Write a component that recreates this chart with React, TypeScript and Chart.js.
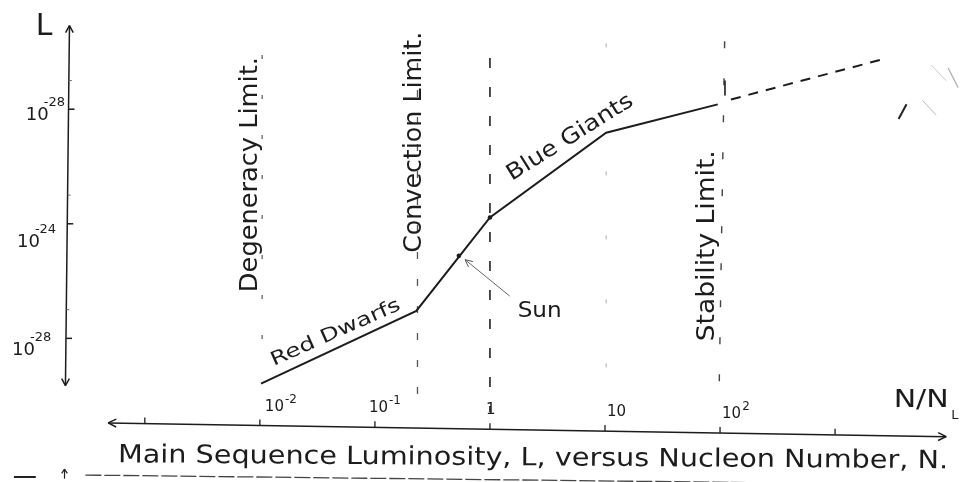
import React, { useEffect, useRef } from "react";
import { Chart, registerables } from "chart.js";

Chart.register(...registerables);

// x value: log10(N / N_L); y value: exponent of L
const curveX = [-1.99, -0.64, 0, 1.01, 1.98];
const curveY = [-29.58, -27.04, -23.78, -20.82, -19.83];
const extrapX = [2.095, 3.39];
const extrapY = [-19.66, -18.28];
const markX = [-0.27, 0];
const markY = [-25.12, -23.78];

const limitNames = ["Degeneracy Limit.", "Convection Limit.", "", "", "Stability Limit."];
const limitTopX = [-1.98, -0.63, 0, 1.01, 2.04];
const limitBottomX = [-1.98, -0.63, 0, 1.01, 1.99];
const limitTopY = [-18.11, -18.39, -18.21, -17.7, -17.63];
const limitBottomY = [-29.27, -30.06, -30.58, -30.4, -30.4];

const xAxisTicks = [-3, -2, -1, 0, 1, 2, 3];
const xTickValues = [-2, -1, 0, 1, 2];
const xTickBases = ["10", "10", "1", "10", "10"];
const xTickExps = ["-2", "-1", "", "", "2"];

const yTicks = [-20, -24, -28];
const yMinorTicks = [-19, -23, -27];
const yTickBases = ["10", "10", "10"];
const yTickExps = ["-28", "-24", "-28"];

const yAxisLabel = "L";
const xAxisLabel = "N/N";
const xAxisLabelSub = "L";
const caption = "Main Sequence Luminosity, L, versus Nucleon Number, N.";
const curveLabels = ["Red Dwarfs", "Blue Giants", "Sun"];

const X_MIN = -4.2241;
const X_MAX = 4.1293;
const Y_MIN = -32.8755;
const Y_MAX = -16.3262;

const INK = "#1c1c1c";
const FONT = '"DejaVu Sans"';

function txt(
  ctx: CanvasRenderingContext2D,
  s: string,
  x: number,
  y: number,
  size: number,
  opt: { angle?: number; width?: number; align?: CanvasTextAlign; color?: string } = {}
) {
  ctx.save();
  ctx.translate(x, y);
  if (opt.angle) ctx.rotate((opt.angle * Math.PI) / 180);
  ctx.font = `${size}px ${FONT}`;
  ctx.textAlign = opt.align || "left";
  ctx.textBaseline = "alphabetic";
  ctx.fillStyle = opt.color || INK;
  if (opt.width) {
    const w = ctx.measureText(s).width;
    ctx.scale(opt.width / w, 1);
  }
  ctx.fillText(s, 0, 0);
  ctx.restore();
}

function seg(ctx: CanvasRenderingContext2D, a: number[], b: number[], color: string, width: number, dash: number[] = []) {
  ctx.save();
  ctx.strokeStyle = color;
  ctx.lineWidth = width;
  ctx.setLineDash(dash);
  ctx.beginPath();
  ctx.moveTo(a[0], a[1]);
  ctx.lineTo(b[0], b[1]);
  ctx.stroke();
  ctx.restore();
}

function arrowHead(ctx: CanvasRenderingContext2D, tip: number[], from: number[], len: number, spread: number, color: string, width: number) {
  const ang = Math.atan2(from[1] - tip[1], from[0] - tip[0]);
  for (const s of [-1, 1]) {
    const a = ang + s * spread;
    seg(ctx, tip, [tip[0] + Math.cos(a) * len, tip[1] + Math.sin(a) * len], color, width);
  }
}

const sketch = {
  id: "sketch",
  beforeDraw(chart: any) {
    const ctx = chart.ctx as CanvasRenderingContext2D;
    ctx.save();
    ctx.fillStyle = "#ffffff";
    ctx.fillRect(0, 0, chart.width, chart.height);
    ctx.restore();
  },
  afterDatasetsDraw(chart: any) {
    const ctx = chart.ctx as CanvasRenderingContext2D;
    const xs = chart.scales.x;
    const ys = chart.scales.y;
    const P = (x: number, y: number) => [xs.getPixelForValue(x), ys.getPixelForValue(y)];

    // horizontal axis
    const L = P(-3.319, -30.953);
    const R = P(3.966, -31.433);
    seg(ctx, L, R, INK, 1.5);
    arrowHead(ctx, L, R, 9, 0.45, INK, 1.5);
    arrowHead(ctx, R, L, 9, 0.45, INK, 1.5);
    const axisYAt = (px: number) => L[1] + ((px - L[0]) / (R[0] - L[0])) * (R[1] - L[1]);
    xAxisTicks.forEach((t) => {
      const px = xs.getPixelForValue(t);
      const py = axisYAt(px);
      seg(ctx, [px, py], [px, py - 6], INK, 1.3);
    });
    const nudge = [5, -6, -4, 2, 2];
    xTickValues.forEach((t, i) => {
      const px = xs.getPixelForValue(t) + nudge[i];
      const py = axisYAt(px) - 15;
      txt(ctx, xTickBases[i], px, py, 15);
      if (xTickExps[i]) {
        ctx.font = `15px ${FONT}`;
        const w = ctx.measureText(xTickBases[i]).width;
        txt(ctx, xTickExps[i], px + w + 1, py - 8, 12);
      }
    });
    const nl = P(3.509, -30.403);
    txt(ctx, xAxisLabel, nl[0], nl[1], 25, { width: 55 });
    const nls = P(4.009, -30.815);
    txt(ctx, xAxisLabelSub, nls[0], nls[1], 13);

    // vertical axis
    const T = P(-3.655, -17.08);
    const B = P(-3.69, -29.65);
    seg(ctx, T, B, INK, 1.5);
    arrowHead(ctx, T, B, 8, 0.5, INK, 1.5);
    arrowHead(ctx, B, T, 8, 0.5, INK, 1.5);
    const axisXAt = (py: number) => T[0] + ((py - T[1]) / (B[1] - T[1])) * (B[0] - T[0]);
    yTicks.forEach((v) => {
      const py = ys.getPixelForValue(v);
      const px = axisXAt(py);
      seg(ctx, [px, py], [px + 6, py], INK, 1.5);
    });
    yMinorTicks.forEach((v) => {
      const py = ys.getPixelForValue(v);
      const px = axisXAt(py);
      seg(ctx, [px, py], [px + 3, py], "#666", 1);
    });
    const yAnchors = [
      [-4.034, -20.378],
      [-4.112, -24.807],
      [-4.155, -28.584],
    ];
    yTicks.forEach((_, i) => {
      const a = P(yAnchors[i][0], yAnchors[i][1]);
      txt(ctx, yTickBases[i], a[0], a[1], 18, { width: 23 });
      txt(ctx, yTickExps[i], a[0] + 18, a[1] - 14, 13);
    });
    const la = P(-3.948, -17.425);
    txt(ctx, yAxisLabel, la[0], la[1], 30);

    // limit labels (vertical)
    const limAnch = [
      [-2.026, -26.386, 235],
      [-0.603, -25.013, 221],
      null,
      null,
      [1.948, -28.103, 191],
    ];
    limitNames.forEach((n, i) => {
      const a = limAnch[i];
      if (!n || !a) return;
      const p = P(a[0], a[1]);
      txt(ctx, n, p[0], p[1], 24, { angle: -90, width: a[2] });
    });

    // stability marker at the end of the solid curve
    seg(ctx, P(2.043, -19.0), P(2.043, -19.52), INK, 1.6);

    // curve labels
    const rd = P(-1.879, -28.961);
    txt(ctx, curveLabels[0], rd[0], rd[1], 19, { angle: -24, width: 140 });
    const bg = P(0.19, -22.506);
    txt(ctx, curveLabels[1], bg[0], bg[1], 22, { angle: -32, width: 145 });
    const sn = P(0.241, -27.245);
    txt(ctx, curveLabels[2], sn[0], sn[1], 22, { width: 44 });

    // arrow to the Sun
    const tail = P(0.172, -26.524);
    const head = P(-0.216, -25.253);
    seg(ctx, tail, head, "#666", 1);
    arrowHead(ctx, head, tail, 8, 0.45, "#555", 1);

    // caption + underline
    const cp = P(-3.233, -32.326);
    txt(ctx, caption, cp[0], cp[1], 25, { width: 830, angle: 0.41 });
    seg(ctx, P(-3.517, -32.773), P(4.052, -33.116), "#444", 1.3, [16, 3]);

    // stray marks of the scanned page
    seg(ctx, P(3.552, -20.343), P(3.621, -19.828), "#222", 2);
    seg(ctx, P(3.759, -19.691), P(3.879, -20.206), "#bbb", 1);
    seg(ctx, P(3.836, -18.455), P(3.966, -19.004), "#ccc", 1);
    seg(ctx, P(3.983, -18.558), P(4.069, -19.245), "#aaa", 1.2);
    seg(ctx, P(-4.138, -32.841), P(-3.948, -32.841), "#222", 2);
    const up = P(-3.698, -32.567);
    seg(ctx, P(-3.698, -32.9), up, "#222", 1.2);
    arrowHead(ctx, up, P(-3.698, -32.9), 5, 0.6, "#222", 1.2);
  },
};

const limitColors = ["#666", "#555", "#222", "#aaa", "#444"];
const limitWidths = [1.3, 1.3, 1.6, 1.0, 1.4];
const limitDashes = [
  [4, 36],
  [7, 20],
  [10, 19],
  [4, 60],
  [7, 30],
];

export default function App() {
  const ref = useRef<HTMLCanvasElement>(null);
  useEffect(() => {
    if (!ref.current) return;
    const datasets: any[] = [
      {
        label: "main sequence",
        data: curveX.map((x, i) => ({ x, y: curveY[i] })),
        showLine: true,
        borderColor: INK,
        borderWidth: 2,
        pointRadius: 0,
        tension: 0,
      },
      {
        label: "extrapolation",
        data: extrapX.map((x, i) => ({ x, y: extrapY[i] })),
        showLine: true,
        borderColor: INK,
        borderWidth: 2,
        borderDash: [10, 8],
        pointRadius: 0,
      },
      ...limitNames.map((n, i) => ({
        label: n || "limit " + i,
        data: [
          { x: limitTopX[i], y: limitTopY[i] },
          { x: limitBottomX[i], y: limitBottomY[i] },
        ],
        showLine: true,
        borderColor: limitColors[i],
        borderWidth: limitWidths[i],
        borderDash: limitDashes[i],
        pointRadius: 0,
      })),
      {
        label: "marks",
        data: markX.map((x, i) => ({ x, y: markY[i] })),
        showLine: false,
        pointRadius: 2.3,
        pointBackgroundColor: INK,
        pointBorderWidth: 0,
      },
    ];
    const chart = new Chart(ref.current, {
      type: "scatter",
      data: { datasets },
      options: {
        responsive: false,
        maintainAspectRatio: false,
        animation: false,
        events: [],
        layout: { padding: 0 },
        scales: {
          x: { type: "linear", display: false, min: X_MIN, max: X_MAX },
          y: { type: "linear", display: false, min: Y_MIN, max: Y_MAX },
        },
        plugins: { legend: { display: false }, tooltip: { enabled: false } },
      },
      plugins: [sketch],
    } as any);
    return () => chart.destroy();
  }, []);
  return (
    <div style={{ position: "absolute", left: 0, top: 0, width: 969, height: 482 }}>
      <canvas ref={ref} width={969} height={482} style={{ width: 969, height: 482, display: "block" }} />
    </div>
  );
}
